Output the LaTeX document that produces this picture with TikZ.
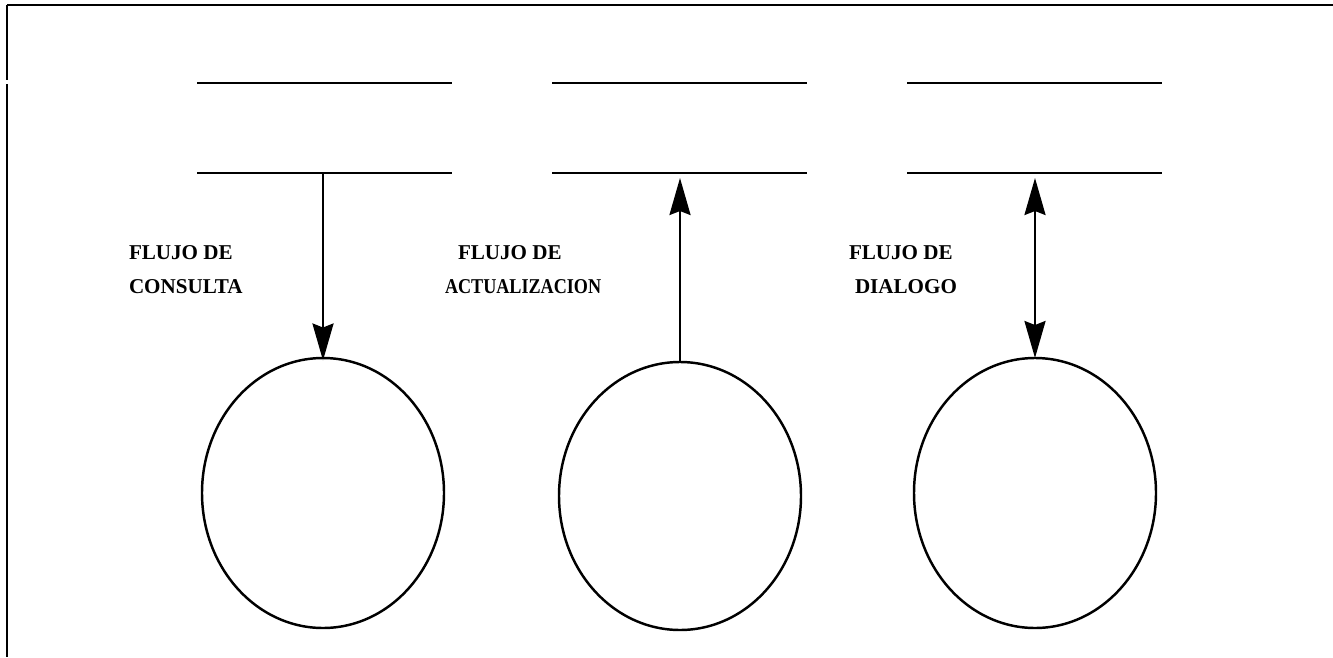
\documentclass[tikz,border=0pt]{standalone}
\usepackage{fontspec}
\usepackage{graphicx}
\setmainfont{Liberation Serif}
\usetikzlibrary{arrows.meta,shapes.geometric}

\begin{document}
\begin{tikzpicture}[scale=1,inner sep=0pt,outer sep=0pt,line width=1.4pt,
>={Stealth[length=0.74cm,width=0.42cm,inset=0.08cm]},
store/.style={rectangle,minimum width=5.1cm,minimum height=1.8cm},
proc/.style={draw,ellipse,minimum width=4.84cm,minimum height=5.4cm},
flowlabel/.style={align=left,anchor=base west,font=\bfseries\fontsize{12}{19.3}\selectfont}]
\useasboundingbox (0,0) rectangle (26.66,-13.16);
% frame
\draw (0.14,-0.1) -- (26.66,-0.1);
\draw (0.14,-0.1) -- (0.14,-1.6);
\draw (0.14,-1.68) -- (0.14,-13.14);
% data stores
\draw (6.49,-2.56) node[store] (S1) {};
\draw (13.59,-2.56) node[store] (S2) {};
\draw (20.69,-2.56) node[store] (S3) {};
\foreach \s in {S1,S2,S3}
  {\draw (\s.north west) -- (\s.north east);
   \draw (\s.south west) -- (\s.south east);}
% processes
\draw (6.46,-9.86) node[proc] (P1) {};
\draw (13.6,-9.92) node[proc,minimum height=5.36cm] (P2) {};
\draw (20.7,-9.86) node[proc] (P3) {};
% flows
\draw[->] (P1.north |- S1.south) -- ([yshift=-0.05cm]P1.north);
\draw[->] (P2.north) -- ([yshift=-0.1cm]P2.north |- S2.south);
\draw[<->] ([yshift=-0.1cm]P3.north |- S3.south) -- (P3.north);
\draw (2.58,-5.86) node[flowlabel] (L1) {FLUJO DE\\CONSULTA};
\draw (8.9,-5.86) node[flowlabel] (L2) {\hspace*{0.26cm}FLUJO DE\\\scalebox{0.86}[1]{ACTUALIZACION}};
\draw (16.98,-5.86) node[flowlabel] (L3) {FLUJO DE\\\hspace*{0.12cm}DIALOGO};
\end{tikzpicture}
\end{document}
